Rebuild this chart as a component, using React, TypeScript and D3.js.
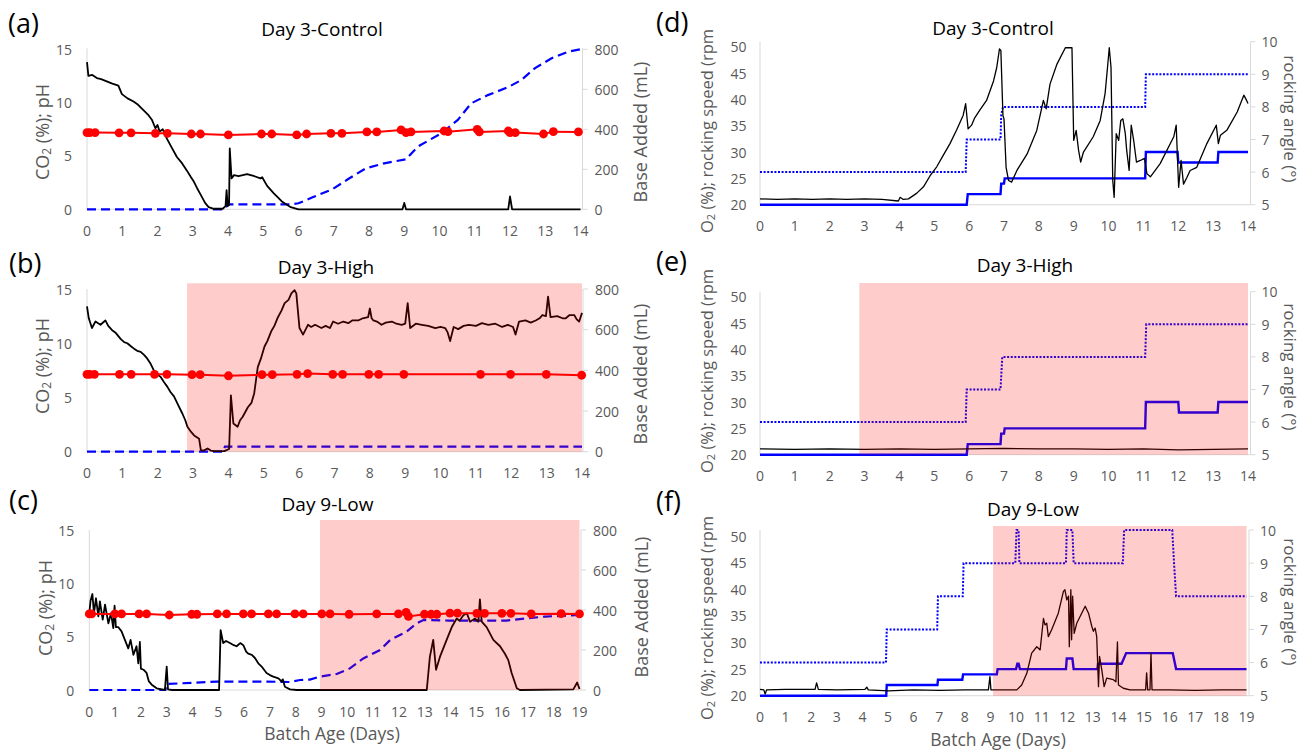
import React from 'react';
import * as d3 from 'd3';

type Pt = [number, number];

// ---------- tick labels ----------
const dayTicks14 = [0, 1, 2, 3, 4, 5, 6, 7, 8, 9, 10, 11, 12, 13, 14];
const dayTicks19 = [0, 1, 2, 3, 4, 5, 6, 7, 8, 9, 10, 11, 12, 13, 14, 15, 16, 17, 18, 19];
const co2PhTicks = [0, 5, 10, 15];
const baseTicks = [0, 200, 400, 600, 800];
const o2RpmTicks = [20, 25, 30, 35, 40, 45, 50];
const angleTicks = [5, 6, 7, 8, 9, 10];

const panelTitles = ['Day 3-Control', 'Day 3-High', 'Day 9-Low'];
const panelLetters = ['(a)', '(b)', '(c)', '(d)', '(e)', '(f)'];
const shadeStartDay = [null, 2.83, 8.94, null, 2.85, 9.1];

// ---------- (a) Day 3-Control : CO2, pH, base ----------
const aCO2: Pt[] = [[0,13.8],[0.04,12.5],[0.15,12.6],[0.28,12.3],[0.4,12.2],[0.56,12.0],[0.7,11.8],[0.89,11.6],[0.99,10.8],[1.15,10.4],[1.32,10.1],[1.45,9.8],[1.6,9.3],[1.75,8.8],[1.84,8.4],[1.94,7.6],[2.0,7.9],[2.06,7.3],[2.15,7.5],[2.27,6.6],[2.4,5.8],[2.55,4.9],[2.7,4.3],[2.84,3.6],[2.95,3.0],[3.03,2.6],[3.12,2.0],[3.22,1.4],[3.35,0.6],[3.45,0.2],[3.6,0.05],[3.85,0.05],[3.93,0.3],[3.96,1.8],[3.99,0.3],[4.03,0.4],[4.05,5.7],[4.1,2.9],[4.17,3.2],[4.3,3.1],[4.54,3.3],[4.75,3.1],[4.92,2.9],[4.97,3.0],[5.11,2.2],[5.3,1.5],[5.45,1.0],[5.54,0.7],[5.78,0.2],[6.0,0],[8.95,0],[9.0,0.6],[9.05,0],[11.95,0],[12.0,1.2],[12.06,0],[14,0]];
const aPH: Pt[] = [[0,7.19],[0.08,7.19],[0.23,7.19],[0.91,7.17],[1.25,7.17],[1.94,7.12],[2.28,7.12],[2.96,7.06],[3.22,7.06],[4.01,6.97],[4.95,7.06],[5.24,7.06],[5.95,6.97],[6.23,7.06],[6.92,7.12],[7.23,7.12],[7.94,7.25],[8.22,7.25],[8.91,7.44],[9.05,7.19],[9.19,7.25],[10.13,7.34],[10.24,7.28],[11.07,7.5],[11.13,7.25],[11.95,7.34],[12.0,7.19],[12.15,7.19],[12.95,7.06],[13.23,7.28],[13.94,7.25]];
const aBase: Pt[] = [[0,0],[3.9,0],[4.0,25],[5.8,25],[6.0,30],[6.4,60],[6.96,100],[7.4,150],[7.91,205],[8.43,230],[9.05,250],[9.38,313],[10.05,380],[10.52,447],[10.9,530],[11.37,571],[11.94,610],[12.32,646],[12.7,705],[13.18,755],[13.65,788],[14,800]];

// ---------- (b) Day 3-High ----------
const bCO2: Pt[] = [[0,13.4],[0.05,12.3],[0.14,11.4],[0.24,12.0],[0.38,11.7],[0.52,12.1],[0.6,11.6],[0.71,11.2],[0.8,11.0],[0.95,10.4],[1.05,10.1],[1.14,10.0],[1.25,9.7],[1.33,9.5],[1.42,9.3],[1.52,9.2],[1.62,8.9],[1.7,8.6],[1.8,8.1],[1.89,7.5],[2.0,7.1],[2.08,6.9],[2.18,6.4],[2.27,6.0],[2.36,5.5],[2.46,5.1],[2.58,4.3],[2.7,3.5],[2.78,2.9],[2.84,2.3],[2.95,1.8],[3.03,1.5],[3.17,1.2],[3.22,0.15],[3.3,0.1],[3.41,0.3],[3.5,0.1],[3.6,0.06],[3.88,0.06],[4.02,0.25],[4.07,5.2],[4.14,2.6],[4.26,2.3],[4.33,2.9],[4.4,3.2],[4.55,4.1],[4.65,4.5],[4.73,5.4],[4.83,7.8],[4.92,8.6],[5.02,9.7],[5.1,10.2],[5.21,11.1],[5.3,11.6],[5.4,12.4],[5.5,13.0],[5.59,13.7],[5.7,14.0],[5.78,14.6],[5.87,14.9],[5.92,14.6],[6.01,11.4],[6.11,10.8],[6.25,11.7],[6.34,11.5],[6.45,11.7],[6.63,11.4],[6.75,11.6],[6.87,11.4],[6.96,12.0],[7.1,11.8],[7.25,12.0],[7.39,11.85],[7.5,12.1],[7.67,12.1],[7.8,12.3],[7.95,12.4],[8.0,13.2],[8.05,12.3],[8.1,12.1],[8.2,12.0],[8.33,11.7],[8.45,11.9],[8.62,12.0],[8.75,11.8],[8.9,11.7],[9.0,11.8],[9.07,13.7],[9.14,11.4],[9.3,11.8],[9.47,11.7],[9.65,11.6],[9.85,11.4],[10.0,11.5],[10.13,11.4],[10.2,11.0],[10.27,10.2],[10.37,11.5],[10.5,11.3],[10.65,11.6],[10.8,11.7],[11.0,11.6],[11.17,11.85],[11.35,11.7],[11.55,11.8],[11.74,11.5],[11.9,11.7],[12.05,11.5],[12.12,10.8],[12.22,12.0],[12.4,12.1],[12.55,11.9],[12.69,12.1],[12.8,12.3],[12.88,12.6],[12.98,12.5],[13.04,14.3],[13.11,12.4],[13.3,12.5],[13.45,12.3],[13.54,12.3],[13.65,12.6],[13.78,12.6],[13.85,12.2],[13.92,12.0],[14,12.8]];
const bPH: Pt[] = [[0,7.13],[0.08,7.13],[0.21,7.13],[0.92,7.13],[1.25,7.13],[1.91,7.13],[2.26,7.13],[2.97,7.1],[3.2,7.1],[4.0,7.0],[4.95,7.1],[5.24,7.1],[5.94,7.13],[6.24,7.2],[6.95,7.13],[7.23,7.13],[7.97,7.13],[8.25,7.13],[8.96,7.13],[11.13,7.13],[11.98,7.13],[12.99,7.13],[13.99,7.05]];
const bBase: Pt[] = [[0,0],[3.85,0],[3.9,25],[14,25]];

// ---------- (c) Day 9-Low ----------
const cCO2: Pt[] = [[0,7.2],[0.05,8.4],[0.12,9.0],[0.18,7.2],[0.26,8.6],[0.35,6.9],[0.41,8.3],[0.52,6.6],[0.61,8.0],[0.74,6.25],[0.84,7.2],[0.93,5.8],[0.98,7.9],[1.03,5.9],[1.12,5.9],[1.25,5.5],[1.38,4.7],[1.51,3.9],[1.6,4.7],[1.71,3.3],[1.83,4.1],[1.9,2.5],[1.96,4.5],[2.0,2.0],[2.1,1.9],[2.22,1.6],[2.31,0.8],[2.42,0.5],[2.61,0.16],[2.93,0],[3.0,2.2],[3.05,0.06],[3.2,0],[5.03,0],[5.09,5.6],[5.19,4.4],[5.3,4.6],[5.45,4.4],[5.6,4.2],[5.71,4.1],[5.85,4.4],[5.97,4.2],[6.08,3.6],[6.16,3.4],[6.3,3.3],[6.42,3.0],[6.55,2.5],[6.68,2.2],[6.87,1.6],[7.0,1.4],[7.13,1.25],[7.33,1.1],[7.45,0.8],[7.5,1.0],[7.58,0.3],[7.78,0.06],[8.04,0],[13.08,0],[13.2,3.1],[13.33,4.7],[13.44,1.9],[13.59,3.1],[13.85,4.7],[14.05,5.9],[14.24,6.7],[14.35,6.5],[14.5,7.0],[14.63,7.2],[14.76,6.4],[14.95,6.7],[15.08,6.4],[15.14,8.5],[15.21,6.4],[15.4,5.9],[15.66,4.7],[15.92,4.1],[16.11,3.4],[16.24,2.8],[16.37,1.6],[16.57,0.16],[16.69,0],[18.76,0.06],[18.91,0.7],[19,0.1]];
const cPH: Pt[] = [[0,7.13],[0.09,7.13],[0.99,7.13],[1.25,7.13],[1.93,7.13],[2.22,7.13],[3.1,7.03],[3.97,7.1],[4.17,7.1],[4.96,7.13],[5.32,7.13],[5.97,7.13],[6.29,7.13],[6.94,7.13],[7.26,7.13],[7.97,7.13],[8.29,7.13],[9.01,7.13],[9.33,7.13],[10.07,7.1],[11.14,7.13],[11.98,7.13],[12.28,7.28],[12.37,6.9],[12.99,7.1],[13.25,7.1],[13.47,7.1],[13.98,7.2],[14.27,7.2],[15.02,7.19],[15.32,7.19],[15.99,7.19],[16.34,7.19],[17.13,7.13],[18.29,7.16],[19,7.13]];
const cBase: Pt[] = [[0,0],[2.95,0],[3.0,30],[4.94,42],[6.87,42],[7.78,40],[8.17,50],[8.55,52],[8.94,67],[9.59,80],[10.1,108],[10.62,158],[11.27,200],[11.66,250],[12.3,292],[12.69,333],[12.95,350],[13.98,347],[15.14,347],[16.17,347],[16.92,358],[17.66,367],[19,375]];

// ---------- (d) Day 3-Control : O2, rocking speed, rocking angle ----------
const dO2: Pt[] = [[0,21.1],[0.5,21.0],[1,21.1],[1.5,21.0],[2,21.1],[2.5,21.0],[3,21.1],[3.5,21.0],[3.97,20.7],[4.02,21.4],[4.11,21.0],[4.26,21.1],[4.5,22.2],[4.69,23.4],[4.88,25.5],[5.07,27.2],[5.26,29.4],[5.45,31.6],[5.64,34.2],[5.83,37.0],[5.9,39.2],[5.97,34.4],[6.07,35.1],[6.16,36.5],[6.31,38.0],[6.5,39.8],[6.7,43.5],[6.79,46.0],[6.87,49.6],[6.91,49.3],[6.97,36.9],[7.0,36.3],[7.06,27.1],[7.13,24.6],[7.22,24.3],[7.37,26.5],[7.66,29.6],[7.94,34.1],[8.13,39.8],[8.21,38.2],[8.32,42.9],[8.52,46.7],[8.76,49.8],[8.95,49.8],[9.0,32.2],[9.07,34.1],[9.14,30.3],[9.2,28.1],[9.28,30.0],[9.56,32.9],[9.76,36.0],[9.9,41.1],[9.97,46.1],[10.02,49.8],[10.07,46.1],[10.12,24.6],[10.16,21.4],[10.22,33.5],[10.29,32.2],[10.35,36.0],[10.41,36.3],[10.48,33.5],[10.52,30.3],[10.59,26.5],[10.65,35.1],[10.72,32.2],[10.8,28.1],[10.91,28.4],[11.03,28.8],[11.1,25.9],[11.2,25.3],[11.48,27.8],[11.87,32.9],[11.94,35.1],[12.01,23.3],[12.08,28.4],[12.15,23.9],[12.25,25.2],[12.34,26.5],[12.53,27.1],[12.82,31.6],[13.09,35.1],[13.15,31.6],[13.21,33.2],[13.4,34.2],[13.69,37.6],[13.88,40.8],[13.96,39.8],[14.0,39.2]];
const dSpeed: Pt[] = [[0,20],[5.93,20],[5.96,22],[6.9,22],[6.92,24],[7.0,24],[7.02,25],[11.05,25],[11.07,30],[11.98,30],[12.0,28],[13.13,28],[13.15,30],[14,30]];
const dAngle: Pt[] = [[0,6],[5.9,6],[5.93,7],[6.9,7],[6.92,7.75],[6.97,8],[11.05,8],[11.07,9],[14,9]];

// ---------- (e) Day 3-High ----------
const eO2: Pt[] = [[0,21.1],[1,21.0],[2,21.1],[3,21.0],[4,21.1],[5,21.0],[6,21.1],[7,21.2],[8,21.1],[9,21.1],[10,21.0],[11,21.1],[12,20.9],[13,21.0],[14,21.1]];
const eSpeed: Pt[] = [[0,20],[5.93,20],[5.96,22],[6.9,22],[6.92,24],[7.0,24],[7.02,25],[11.05,25],[11.07,30],[12.0,30],[12.02,28],[13.13,28],[13.15,30],[14,30]];
const eAngle: Pt[] = [[0,6],[5.9,6],[5.93,7],[6.9,7],[6.95,8],[11.05,8],[11.08,9],[14,9]];

// ---------- (f) Day 9-Low ----------
const fO2: Pt[] = [[0,21.2],[0.15,21.1],[0.2,20.3],[0.26,21.1],[1,21.2],[2.15,21.2],[2.21,22.4],[2.28,21.2],[3,21.1],[4.1,21.2],[4.17,21.6],[4.23,21.1],[5,20.9],[6,21.1],[7,21.0],[8,21.1],[8.92,21.1],[8.98,23.6],[9.02,21.1],[10.03,21.1],[10.22,22.0],[10.42,24.2],[10.61,28.0],[10.81,29.2],[10.94,28.6],[11.07,34.5],[11.13,33.3],[11.2,33.6],[11.26,31.1],[11.39,32.4],[11.65,35.5],[11.85,39.6],[11.91,39.9],[11.98,38.0],[12.05,38.7],[12.08,29.2],[12.14,39.9],[12.17,30.5],[12.21,38.7],[12.27,31.7],[12.37,33.6],[12.7,36.8],[12.83,35.5],[12.96,33.0],[13.02,32.1],[13.09,32.7],[13.15,31.1],[13.22,21.7],[13.26,27.4],[13.35,24.8],[13.44,21.7],[13.54,23.3],[13.8,23.0],[13.9,22.6],[13.96,30.1],[14.0,22.0],[14.19,21.4],[14.45,21.1],[15.06,21.1],[15.1,24.3],[15.14,21.1],[15.23,21.1],[15.27,28.0],[15.31,21.1],[16,21.1],[17,21.0],[18,21.1],[19,21.1]];
const fSpeed: Pt[] = [[0,20],[4.93,20],[4.95,22],[6.93,22],[6.95,23],[7.9,23],[7.93,24],[9.25,24],[9.28,25],[10.0,25],[10.05,26],[10.1,26],[10.15,25],[11.95,25],[11.98,27],[12.2,27],[12.25,25],[13.18,25],[13.2,26],[14.12,26],[14.3,28],[16.12,28],[16.25,25],[19,25]];
const fAngle: Pt[] = [[0,6],[4.92,6],[4.95,7],[6.92,7],[6.95,8],[7.92,8],[7.95,9],[9.97,9],[10.02,10],[10.1,10],[10.13,9],[11.95,9],[11.98,10],[12.2,10],[12.25,9],[14.17,9],[14.22,10],[16.1,10],[16.17,9],[16.25,8],[19,8]];

// ---------- styling / layout ----------
const FONT = "'Open Sans', 'Noto Sans', 'DejaVu Sans', sans-serif";
const AXIS = '#d9d9d9';
const TICK = '#595959';
const BLUE = '#0000ff';
const RED = '#ff0000';

type Lay = {
  xr: [number, number]; xMax: number; xTicks: number[]; rAxisX: number;
  yb: number; ytL: number; ytR: number; axisTop: number;
  shadeFrom: number | null; shadeTop: number;
  letter: string; letterX: number; letterY: number;
  title: string; titleX: number; titleY: number;
  ltX: number; ltY: number; rtX: number; rtY: number;
};

const layA: Lay = { xr: [87, 580.5], xMax: 14, xTicks: dayTicks14, rAxisX: 582.5, yb: 209.3, ytL: 49.3, ytR: 49.3, axisTop: 48.3, shadeFrom: shadeStartDay[0], shadeTop: 0, letter: panelLetters[0], letterX: 8, letterY: 33, title: panelTitles[0], titleX: 322, titleY: 36, ltX: 42, ltY: 132, rtX: 640, rtY: 132 };
const layB: Lay = { xr: [87, 582], xMax: 14, xTicks: dayTicks14, rAxisX: 583, yb: 451.7, ytL: 289, ytR: 289, axisTop: 289, shadeFrom: shadeStartDay[1], shadeTop: 283.3, letter: panelLetters[1], letterX: 9, letterY: 273, title: panelTitles[1], titleX: 326, titleY: 274, ltX: 42, ltY: 366, rtX: 640, rtY: 374 };
const layC: Lay = { xr: [89.3, 579.5], xMax: 19, xTicks: dayTicks19, rAxisX: 581, yb: 690, ytL: 530, ytR: 530, axisTop: 530, shadeFrom: shadeStartDay[2], shadeTop: 520, letter: panelLetters[2], letterX: 9, letterY: 510, title: panelTitles[2], titleX: 327.5, titleY: 511, ltX: 45, ltY: 608, rtX: 641, rtY: 607 };
const layD: Lay = { xr: [760, 1248], xMax: 14, xTicks: dayTicks14, rAxisX: 1250.5, yb: 204.7, ytL: 46.7, ytR: 41.7, axisTop: 41.7, shadeFrom: shadeStartDay[3], shadeTop: 0, letter: panelLetters[3], letterX: 656, letterY: 32, title: panelTitles[0], titleX: 993, titleY: 35, ltX: 706, ltY: 233, rtX: 1290, rtY: 119 };
const layE: Lay = { xr: [760, 1248], xMax: 14, xTicks: dayTicks14, rAxisX: 1250.5, yb: 454.7, ytL: 296.7, ytR: 291.7, axisTop: 291.7, shadeFrom: shadeStartDay[4], shadeTop: 283, letter: panelLetters[4], letterX: 656, letterY: 271, title: panelTitles[1], titleX: 1025, titleY: 272, ltX: 706, ltY: 473, rtX: 1290, rtY: 367 };
const layF: Lay = { xr: [760, 1246.5], xMax: 19, xTicks: dayTicks19, rAxisX: 1249, yb: 695.7, ytL: 536, ytR: 530, axisTop: 530, shadeFrom: shadeStartDay[5], shadeTop: 526, letter: panelLetters[5], letterX: 656, letterY: 511, title: panelTitles[2], titleX: 1033, titleY: 516, ltX: 706, ltY: 720, rtX: 1290, rtY: 602 };

function Frame({ lay, yL, yR, lTicks, rTicks, lGap, rGap, x }: any) {
  const x0 = lay.xr[0];
  return (
    <g>
      <line x1={x0} x2={x0} y1={lay.axisTop} y2={lay.yb} stroke={AXIS} strokeWidth={1} />
      <line x1={x0} x2={lay.rAxisX} y1={lay.yb} y2={lay.yb} stroke={AXIS} strokeWidth={1} />
      <line x1={lay.rAxisX} x2={lay.rAxisX} y1={lay.axisTop} y2={lay.yb} stroke={AXIS} strokeWidth={1} />
      {rTicks.map((t: number) => (
        <line key={'rt' + t} x1={lay.rAxisX} x2={lay.rAxisX + 5} y1={yR(t)} y2={yR(t)} stroke={AXIS} />
      ))}
      {lTicks.map((t: number) => (
        <text key={'lt' + t} x={x0 - lGap} y={yL(t)} textAnchor="end" dominantBaseline="central" fontSize={14} fill={TICK} fontFamily={FONT}>{t}</text>
      ))}
      {rTicks.map((t: number) => (
        <text key={'rl' + t} x={lay.rAxisX + rGap} y={yR(t)} textAnchor="start" dominantBaseline="central" fontSize={14} fill={TICK} fontFamily={FONT}>{t}</text>
      ))}
      {lay.xTicks.map((t: number) => (
        <text key={'x' + t} x={x(t)} y={lay.yb + 21} textAnchor="middle" dominantBaseline="central" fontSize={14} fill={TICK} fontFamily={FONT}>{t}</text>
      ))}
      <text x={lay.letterX} y={lay.letterY} fontSize={27} fill="#000" fontFamily={FONT}>{lay.letter}</text>
      <text x={lay.titleX} y={lay.titleY} textAnchor="middle" fontSize={19} fill="#000" fontFamily={FONT}>{lay.title}</text>
    </g>
  );
}

function Shade({ lay, x }: any) {
  if (lay.shadeFrom === null) return null;
  return (
    <rect x={x(lay.shadeFrom)} y={lay.shadeTop} width={x(lay.xMax) - x(lay.shadeFrom)} height={lay.yb - lay.shadeTop} fill={RED} fillOpacity={0.2} />
  );
}

function CO2Panel({ lay, co2, ph, base }: { lay: Lay; co2: Pt[]; ph: Pt[]; base: Pt[] }) {
  const x = d3.scaleLinear().domain([0, lay.xMax]).range(lay.xr);
  const yL = d3.scaleLinear().domain([0, 15]).range([lay.yb, lay.ytL]);
  const yR = d3.scaleLinear().domain([0, 800]).range([lay.yb, lay.ytR]);
  const lineL = d3.line<Pt>().x(d => x(d[0])).y(d => yL(d[1]));
  const lineR = d3.line<Pt>().x(d => x(d[0])).y(d => yR(d[1]));
  return (
    <g>
      <Frame lay={lay} x={x} yL={yL} yR={yR} lTicks={co2PhTicks} rTicks={baseTicks} lGap={15} rGap={12} />
      <path d={lineR(base) || ''} fill="none" stroke={BLUE} strokeWidth={2.2} strokeDasharray="9,5" />
      <path d={lineL(co2) || ''} fill="none" stroke="#000" strokeWidth={1.8} strokeLinejoin="round" />
      <path d={lineL(ph) || ''} fill="none" stroke={RED} strokeWidth={2} />
      {ph.map((d, i) => <circle key={i} cx={x(d[0])} cy={yL(d[1])} r={4.4} fill={RED} />)}
      <Shade lay={lay} x={x} />
      <text transform={`translate(${lay.ltX},${lay.ltY}) rotate(-90)`} textAnchor="middle" dominantBaseline="central" fontSize={18} fill={TICK} fontFamily={FONT}>
        CO<tspan fontSize={12} dy={4}>2</tspan><tspan dy={-4}> (%); pH</tspan>
      </text>
      <text transform={`translate(${lay.rtX},${lay.rtY}) rotate(-90)`} textAnchor="middle" dominantBaseline="central" fontSize={18} fill={TICK} fontFamily={FONT}>Base Added (mL)</text>
    </g>
  );
}

function O2Panel({ lay, o2, speed, angle }: { lay: Lay; o2: Pt[]; speed: Pt[]; angle: Pt[] }) {
  const x = d3.scaleLinear().domain([0, lay.xMax]).range(lay.xr);
  const yL = d3.scaleLinear().domain([20, 50]).range([lay.yb, lay.ytL]);
  const yR = d3.scaleLinear().domain([5, 10]).range([lay.yb, lay.ytR]);
  const lineL = d3.line<Pt>().x(d => x(d[0])).y(d => yL(d[1]));
  const lineR = d3.line<Pt>().x(d => x(d[0])).y(d => yR(d[1]));
  return (
    <g>
      <Frame lay={lay} x={x} yL={yL} yR={yR} lTicks={o2RpmTicks} rTicks={angleTicks} lGap={13.5} rGap={11} />
      <path d={lineR(angle) || ''} fill="none" stroke={BLUE} strokeWidth={2} strokeDasharray="2,1.6" />
      <path d={lineL(speed) || ''} fill="none" stroke={BLUE} strokeWidth={2.4} />
      <path d={lineL(o2) || ''} fill="none" stroke="#000" strokeWidth={1.3} strokeLinejoin="round" />
      <Shade lay={lay} x={x} />
      <text transform={`translate(${lay.ltX},${lay.ltY}) rotate(-90)`} textAnchor="start" dominantBaseline="central" fontSize={16.5} fill={TICK} fontFamily={FONT}>
        O<tspan fontSize={11} dy={4}>2</tspan><tspan dy={-4}> (%); rocking speed (rpm</tspan>
      </text>
      <text transform={`translate(${lay.rtX},${lay.rtY}) rotate(90)`} textAnchor="middle" dominantBaseline="central" fontSize={17} fill={TICK} fontFamily={FONT}>rocking angle (°)</text>
    </g>
  );
}

export default function App() {
  return (
    <svg width={1301} height={750} style={{ position: 'absolute', left: 0, top: 0, background: '#fff' }}>
      <rect x={0} y={0} width={1301} height={750} fill="#fff" />
      <CO2Panel lay={layA} co2={aCO2} ph={aPH} base={aBase} />
      <CO2Panel lay={layB} co2={bCO2} ph={bPH} base={bBase} />
      <CO2Panel lay={layC} co2={cCO2} ph={cPH} base={cBase} />
      <O2Panel lay={layD} o2={dO2} speed={dSpeed} angle={dAngle} />
      <O2Panel lay={layE} o2={eO2} speed={eSpeed} angle={eAngle} />
      <O2Panel lay={layF} o2={fO2} speed={fSpeed} angle={fAngle} />
      <text x={332} y={740} textAnchor="middle" fontSize={17.5} fill={TICK} fontFamily={FONT}>Batch Age (Days)</text>
      <text x={998} y={746} textAnchor="middle" fontSize={17.5} fill={TICK} fontFamily={FONT}>Batch Age (Days)</text>
    </svg>
  );
}
